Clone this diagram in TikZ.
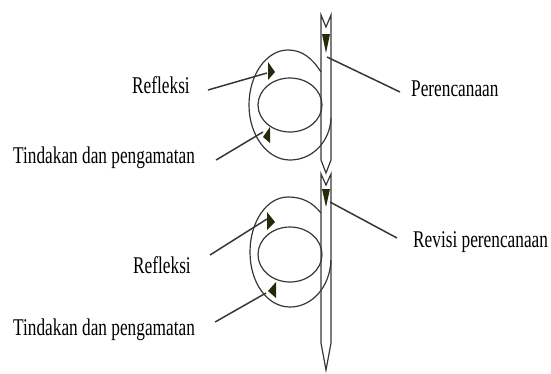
\documentclass[tikz,border=0pt]{standalone}
\usepackage{fontspec}
\setmainfont{Liberation Serif}[FakeStretch=0.72]
\usetikzlibrary{positioning,calc}
\definecolor{olivedark}{RGB}{40,40,10}
\definecolor{linegrey}{RGB}{55,55,55}

\begin{document}
\begin{tikzpicture}[x=1pt,y=-1pt,
  band/.style={draw=linegrey,line width=1.2pt},
  leader/.style={draw=linegrey,line width=1.5pt},
  headtri/.style={fill=olivedark,draw=none},
  lbl/.style={inner sep=0pt,font=\fontsize{24}{26}\selectfont}]
\useasboundingbox (0,0) rectangle (551,373);

% first cycle
\draw[band] (321,15) -- (326,27) -- (331,15) -- (331,160) -- (326,173) -- (321,160) -- cycle;
\draw[band] (321,72) .. controls (312,58) and (302,50) .. (288,50)
  .. controls (266.5,50) and (249,74.6) .. (249,105)
  .. controls (249,135.4) and (267.4,160) .. (290,160)
  .. controls (312,160) and (330,142) .. (331,118);
\draw[band] (290,105) ellipse [x radius=32pt, y radius=27pt];
\fill[headtri] (322,34) -- (330,34) -- (326,53) -- cycle;
\fill[headtri] (268,62) -- (275,72) -- (268,80) -- cycle;
\fill[headtri] (270,127) -- (263,137) -- (270,143) -- cycle;
\coordinate (p1) at (327,57);
\coordinate (r1) at (267,73);
\coordinate (t1) at (263,132);

% second cycle
\draw[band] (321,174) -- (326,185) -- (331,174) -- (331,343) -- (326,370) -- (321,343) -- cycle;
\draw[band] (321,213) .. controls (312,202) and (302,197) .. (288,197)
  .. controls (266.5,197) and (250,222) .. (250,252)
  .. controls (250,283) and (267.4,307) .. (290,307)
  .. controls (312,307) and (330,287) .. (331,260);
\draw[band] (290,254.5) ellipse [x radius=32pt, y radius=27.5pt];
\fill[headtri] (322,189) -- (330,189) -- (326,207) -- cycle;
\fill[headtri] (267,212) -- (275,222) -- (267,230) -- cycle;
\fill[headtri] (276,282) -- (268,291) -- (276,298) -- cycle;
\coordinate (p2) at (330,202);
\coordinate (r2) at (267,219);
\coordinate (t2) at (266,293);

% labels
\node[lbl,anchor=base west] (R1) at (132,93) {Refleksi};
\node[lbl,anchor=base west] (T1) at (13,163) {Tindakan dan pengamatan};
\node[lbl,anchor=base west] (P1) at (411,96) {Perencanaan};
\node[lbl,anchor=base west] (P2) at (413,247) {Revisi perencanaan};
\node[lbl,anchor=base west] (R2) at (133,273) {Refleksi};
\node[lbl,anchor=base west] (T2) at (13,335) {Tindakan dan pengamatan};

\draw[leader] ([shift={(18,-3)}]R1.base east) -- (r1);
\draw[leader] ([shift={(21,-3)}]T1.base east) -- (t1);
\draw[leader] ([shift={(-11,-4)}]P1.base west) -- (p1);
\draw[leader] ([shift={(-16,-9)}]P2.base west) -- (p2);
\draw[leader] ([shift={(19,-18)}]R2.base east) -- (r2);
\draw[leader] ([shift={(20,-13)}]T2.base east) -- (t2);
\end{tikzpicture}
\end{document}
